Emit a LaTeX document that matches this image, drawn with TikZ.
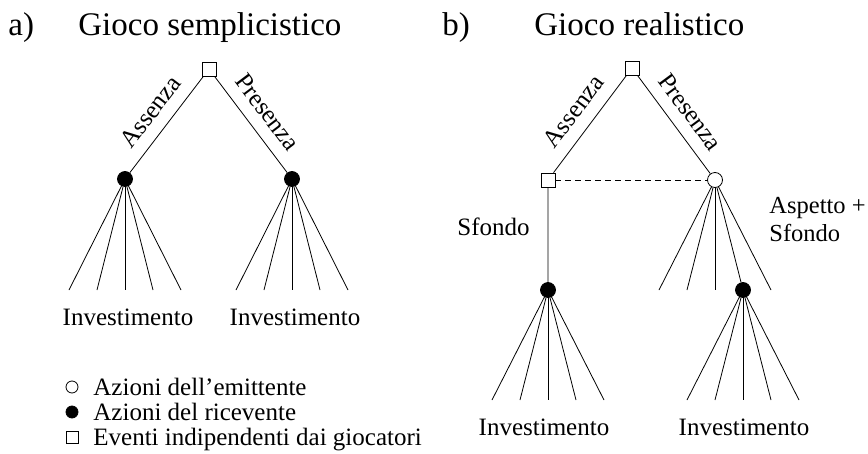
\documentclass[tikz,border=0pt]{standalone}
\usepackage{fontspec}
\setmainfont{Liberation Serif}
\usetikzlibrary{positioning}

\begin{document}
\begin{tikzpicture}[x=1pt, y=-1pt, line width=0.8pt,
        evento/.style={rectangle, draw, fill=white, minimum size=14pt, inner sep=0pt},
        ricevente/.style={circle, draw, fill=black, minimum size=15pt, inner sep=0pt},
        emittente/.style={circle, draw, fill=white, minimum size=15pt, inner sep=0pt},
        testo/.style={font=\fontsize{25}{28}\selectfont, inner sep=0pt},
        titolo/.style={font=\fontsize{33}{38}\selectfont, inner sep=0pt, anchor=base west}]
        \useasboundingbox (0,0) rectangle (868,453);

        % titoli
        \node[titolo] (ta) at (8,35) {a)};
        \node[titolo] (tta) at (78,35) {Gioco semplicistico};
        \node[titolo] (tb) at (442,35) {b)};
        \node[titolo] (ttb) at (534,35) {Gioco realistico};

        % a) gioco semplicistico
        \node[evento] (ra) at (209,69) {};
        \node[ricevente] (aa) at (125,179) {};
        \node[ricevente] (pa) at (292,179) {};

        \draw (aa) -- node[testo, sloped, above=12pt] {Assenza} (ra)
            (ra) -- node[testo, sloped, above=12pt] {Presenza} (pa);
        \foreach \i/\dx in {1/-56, 2/-28, 3/0, 4/28, 5/56} {
            \coordinate (fa\i) at (125+\dx, 290);
            \coordinate (fp\i) at (292+\dx, 290);
            \draw (aa) -- (fa\i)
                (pa) -- (fp\i);
        }
        \node[testo, anchor=base] (ia) at (128,325) {Investimento};
        \node[testo, anchor=base] (ip) at (295,325) {Investimento};

        % legenda
        \node[emittente, minimum size=12pt] (le) at (72,387) {};
        \node[ricevente, minimum size=12pt] (lr) at (72,412) {};
        \node[evento, minimum size=12pt] (lv) at (72,437) {};
        \node[testo, anchor=base west] (tle) at (93,395) {Azioni dell'emittente};
        \node[testo, anchor=base west] (tlr) at (93,420) {Azioni del ricevente};
        \node[testo, anchor=base west] (tlv) at (93,445) {Eventi indipendenti dai giocatori};

        % b) gioco realistico
        \node[evento] (rb) at (632,68) {};
        \node[evento] (ab) at (548,180) {};
        \node[emittente] (pb) at (715,180) {};
        \node[ricevente] (sb) at (548,290) {};
        \node[ricevente] (qb) at (743,290) {};

        \draw (ab) -- node[testo, sloped, above=12pt] {Assenza} (rb)
            (rb) -- node[testo, sloped, above=12pt] {Presenza} (pb)
            (ab) -- node[testo, pos=0.42, left=18pt] {Sfondo} (sb)
            (pb) -- (qb);
        \draw[dash pattern=on 6pt off 4pt] (ab) -- (pb);
        \foreach \i/\dx in {1/-56, 2/-28, 3/0, 5/56} {
            \coordinate (fb\i) at (715+\dx, 290);
            \draw (pb) -- (fb\i);
        }
        \foreach \i/\dx in {1/-56, 2/-28, 3/0, 4/28, 5/56} {
            \coordinate (gs\i) at (548+\dx, 400);
            \coordinate (gq\i) at (743+\dx, 400);
            \draw (sb) -- (gs\i)
                (qb) -- (gq\i);
        }
        \node[testo, align=left, anchor=north west, font=\fontsize{24.5}{28}\selectfont] (asp) at (769,197) {Aspetto +\\Sfondo};
        \node[testo, anchor=base] (is) at (544,435) {Investimento};
        \node[testo, anchor=base] (iq) at (744,435) {Investimento};
    \end{tikzpicture}
\end{document}
